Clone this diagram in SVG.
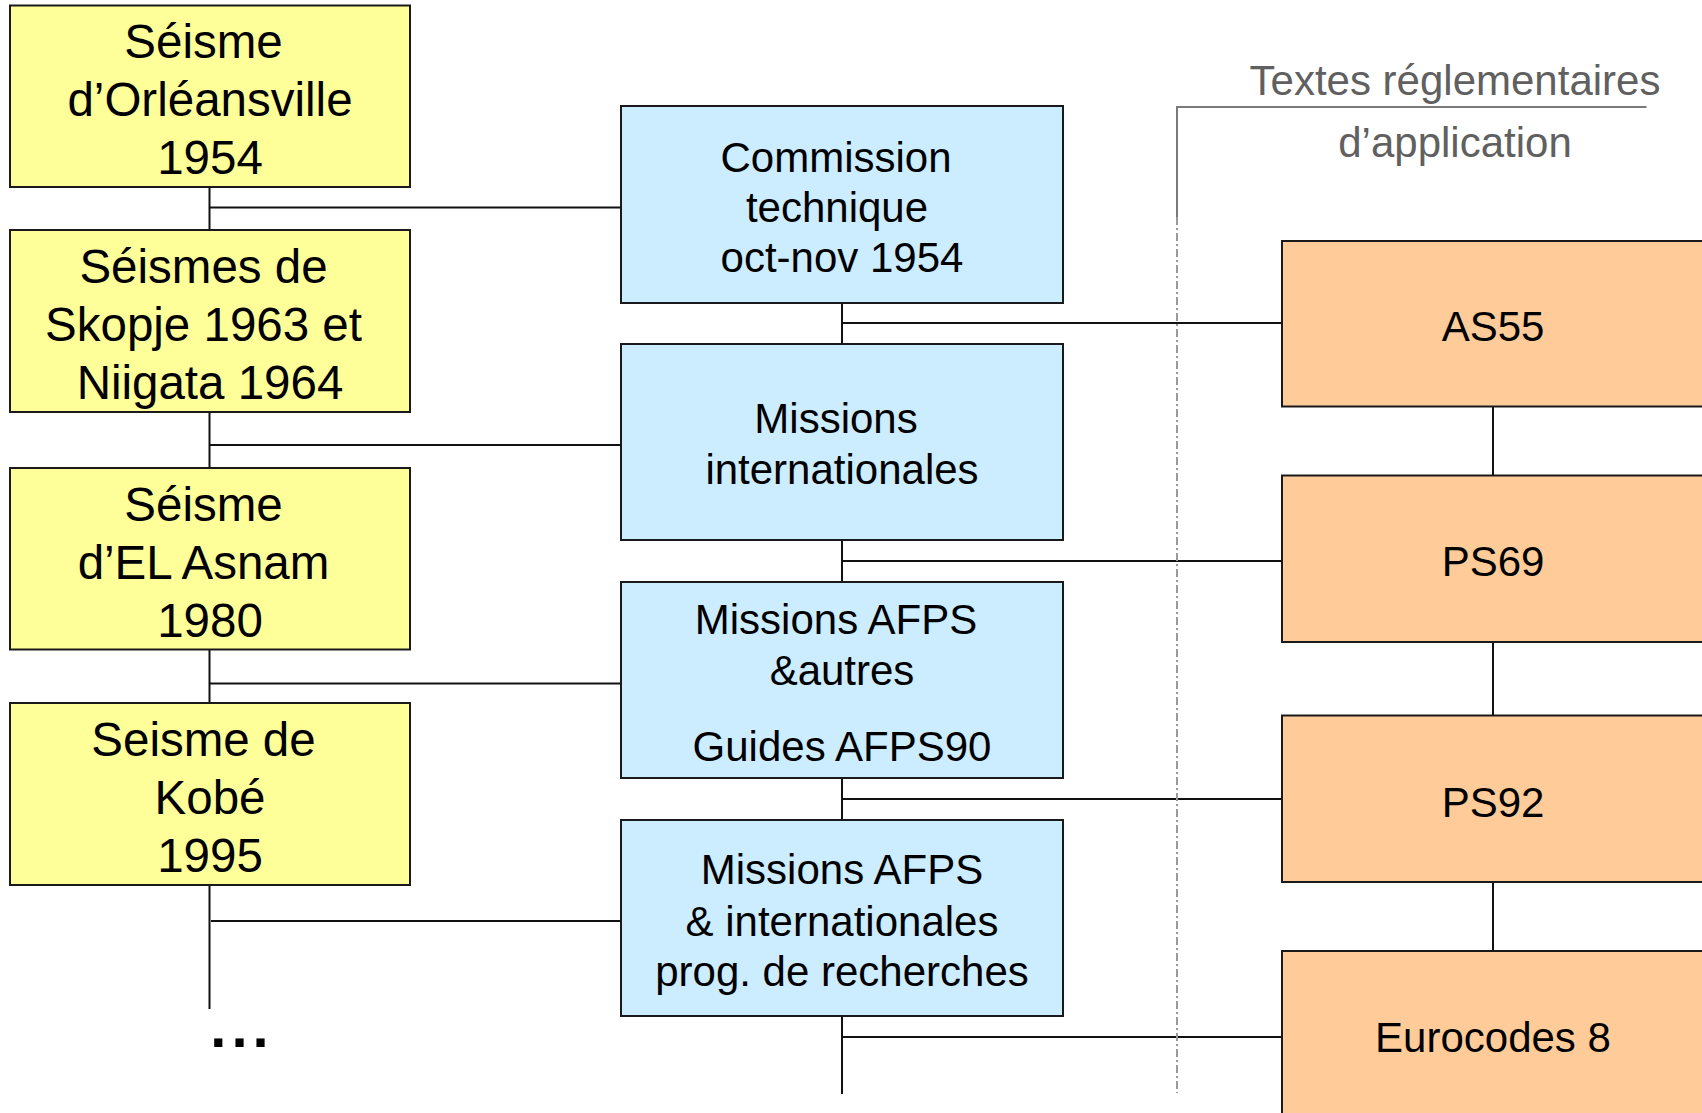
<svg xmlns="http://www.w3.org/2000/svg" width="1702" height="1113" viewBox="0 0 1702 1113">
<style>
text{font-family:"Liberation Sans",Arial,sans-serif;text-anchor:middle;fill:#000}
.y rect{fill:#FFFF99;stroke:#1a1a1a;stroke-width:2}
.b rect{fill:#CCECFF;stroke:#1a1a1a;stroke-width:2}
.o rect{fill:#FFCC99;stroke:#1a1a1a;stroke-width:2}
.y text{font-size:47.5px}
.b text{font-size:42px}
.o text{font-size:42px}
.c line{stroke:#111;stroke-width:2}
.hdr text{font-size:42px;fill:#606060}
</style>
<g id="connectors" class="c">
<line x1="209.5" y1="187" x2="209.5" y2="230"/>
<line x1="209.5" y1="412" x2="209.5" y2="468"/>
<line x1="209.5" y1="649.5" x2="209.5" y2="703"/>
<line x1="209.5" y1="885" x2="209.5" y2="1009"/>
<line x1="209.5" y1="207.5" x2="621" y2="207.5"/>
<line x1="209.5" y1="445" x2="621" y2="445"/>
<line x1="209.5" y1="683.5" x2="621" y2="683.5"/>
<line x1="211" y1="921" x2="621" y2="921"/>
<line x1="842" y1="303" x2="842" y2="344"/>
<line x1="842" y1="540" x2="842" y2="582"/>
<line x1="842" y1="778" x2="842" y2="820"/>
<line x1="842" y1="1016" x2="842" y2="1094"/>
<line x1="842" y1="323" x2="1282" y2="323"/>
<line x1="842" y1="561" x2="1282" y2="561"/>
<line x1="842" y1="799" x2="1282" y2="799"/>
<line x1="842" y1="1037" x2="1282" y2="1037"/>
<line x1="1493" y1="406.5" x2="1493" y2="475.5"/>
<line x1="1493" y1="642" x2="1493" y2="715.5"/>
<line x1="1493" y1="882" x2="1493" y2="951"/>
</g>
<g id="separator">
<line x1="1177" y1="217" x2="1177" y2="1093" stroke="#9a9a9a" stroke-width="2" stroke-dasharray="8 3 2 3"/>
<polyline points="1177,217 1177,107 1646.5,107" fill="none" stroke="#7a7a7a" stroke-width="2"/>
</g>
<g id="header" class="hdr">
<text x="1455" y="95">Textes réglementaires</text>
<text x="1455" y="157">d’application</text>
</g>
<g id="y1" class="y"><rect x="10" y="5.5" width="400" height="181.5"/>
<text x="203.5" y="58.3">Séisme</text><text x="210" y="116">d’Orléansville</text><text x="210" y="174">1954</text></g>
<g id="y2" class="y"><rect x="10" y="230" width="400" height="182"/>
<text x="203.5" y="283">Séismes de</text><text x="203.5" y="340.5">Skopje 1963 et</text><text x="210" y="398.5">Niigata 1964</text></g>
<g id="y3" class="y"><rect x="10" y="468" width="400" height="181.5"/>
<text x="203.5" y="521">Séisme</text><text x="203.5" y="578.5">d’EL Asnam</text><text x="210" y="636.5">1980</text></g>
<g id="y4" class="y"><rect x="10" y="703" width="400" height="182"/>
<text x="203.5" y="756">Seisme de</text><text x="210" y="813.5">Kobé</text><text x="210" y="871.5">1995</text></g>
<g id="dots"><text x="242" y="1047" style="font-size:58px;font-weight:bold;letter-spacing:5px">...</text></g>
<g id="b1" class="b"><rect x="621" y="106" width="442" height="197"/>
<text x="836" y="171.7">Commission</text><text x="837" y="221.7">technique</text><text x="842" y="271.7">oct-nov 1954</text></g>
<g id="b2" class="b"><rect x="621" y="344" width="442" height="196"/>
<text x="836" y="433">Missions</text><text x="842" y="484">internationales</text></g>
<g id="b3" class="b"><rect x="621" y="582" width="442" height="196"/>
<text x="836" y="633.5">Missions AFPS</text><text x="842" y="685">&amp;autres</text><text x="842" y="760.5">Guides AFPS90</text></g>
<g id="b4" class="b"><rect x="621" y="820" width="442" height="196"/>
<text x="842" y="884">Missions AFPS</text><text x="842" y="935.5">&amp; internationales</text><text x="842" y="985.5">prog. de recherches</text></g>
<g id="o1" class="o"><rect x="1282" y="241" width="422" height="165.5"/><text x="1493" y="341">AS55</text></g>
<g id="o2" class="o"><rect x="1282" y="475.5" width="422" height="166.5"/><text x="1493" y="576">PS69</text></g>
<g id="o3" class="o"><rect x="1282" y="715.5" width="422" height="166.5"/><text x="1493" y="816.5">PS92</text></g>
<g id="o4" class="o"><rect x="1282" y="951" width="422" height="166"/><text x="1493" y="1051.5">Eurocodes 8</text></g>
</svg>
